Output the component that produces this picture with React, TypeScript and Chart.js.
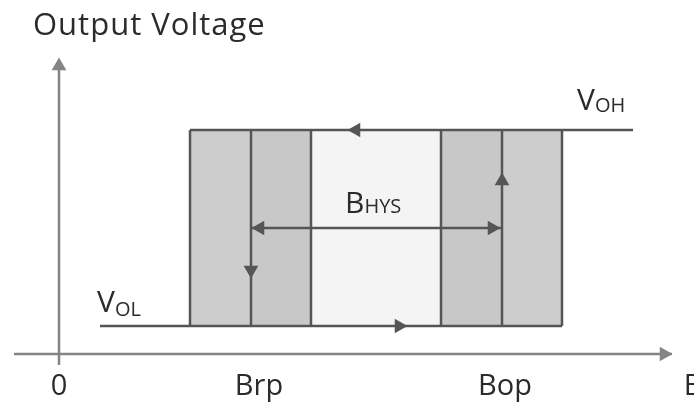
import React, { useEffect, useRef } from "react";
import { Chart, registerables } from "chart.js";

Chart.register(...registerables);

// ---- data (abstract field units B, voltage units V) ----
const bandEdges = [13.1, 19.2, 25.2, 38.2, 44.3, 50.3]; // box columns along B
const bandShades = ["#cdcdcd", "#c8c8c8", "#f4f4f4", "#c8c8c8", "#cdcdcd"];
const voltageLevels = [2.8, 22.4]; // VOL, VOH
const vohLineEnd = 57.4;
const volLineStart = 4.1;
const hystLevel = 12.6;
const xAxisRange = [-4.5, 61.3];
const yAxisRange = [-1.1, 29.2];

// arrow heads: [x, y, rotation]
const arrowX = [29.7, 19.2, 34.0, 44.3, 20.1, 43.3, 0, 60.5];
const arrowY = [22.4, 8.4, 2.8, 17.3, 12.6, 12.6, 28.8, 0];
const arrowRot = [270, 180, 90, 0, 270, 90, 0, 90];

// tick labels on B axis
const tickLabels = ["0", "Brp", "Bop", "B"];
const tickValues = [0, 20.0, 44.6, 63.4];
const tickY = -4.1;

// other labels: [main, subscript, x, y]
const labelMain = ["V", "V", "B"];
const labelSub = ["OH", "OL", "HYS"];
const labelX = [51.8, 3.8, 28.6];
const labelY = [24.4, 4.2, 14.1];
const labelSubDrop = [2, 4, 0];

const titleText = "Output Voltage";
const titleX = -2.6;
const titleY = 31.9;

const FONT = "'Open Sans', 'DejaVu Sans', sans-serif";
const TEXT = "#2b2b2b";
const LINE = "#555555";
const AXIS = "#848484";

export default function App() {
  const ref = useRef<HTMLCanvasElement | null>(null);

  useEffect(() => {
    if (!ref.current) return;
    const [vol, voh] = voltageLevels;

    const datasets: any[] = [];

    // shaded bands
    for (let i = 0; i < bandShades.length; i++) {
      datasets.push({
        data: [
          { x: bandEdges[i], y: voh },
          { x: bandEdges[i + 1], y: voh },
        ],
        showLine: true,
        borderWidth: 0,
        pointRadius: 0,
        backgroundColor: bandShades[i],
        borderColor: "rgba(0,0,0,0)",
        fill: { value: vol },
        order: 10,
      });
    }

    const line = (pts: { x: number; y: number }[], color = LINE, width = 2.5) => ({
      data: pts,
      showLine: true,
      borderColor: color,
      borderWidth: width,
      pointRadius: 0,
      fill: false,
      order: 5,
    });

    // axes
    datasets.push(line([{ x: xAxisRange[0], y: 0 }, { x: xAxisRange[1], y: 0 }], AXIS, 2.5));
    datasets.push(line([{ x: 0, y: yAxisRange[0] }, { x: 0, y: yAxisRange[1] }], AXIS, 2.5));

    // VOH and VOL lines
    datasets.push(line([{ x: bandEdges[0], y: voh }, { x: vohLineEnd, y: voh }]));
    datasets.push(line([{ x: volLineStart, y: vol }, { x: bandEdges[bandEdges.length - 1], y: vol }]));

    // box verticals
    for (const e of bandEdges) {
      datasets.push(line([{ x: e, y: vol }, { x: e, y: voh }]));
    }

    // hysteresis span
    datasets.push(line([{ x: bandEdges[1], y: hystLevel }, { x: bandEdges[4], y: hystLevel }]));

    // arrow heads
    datasets.push({
      data: arrowX.map((x, i) => ({ x, y: arrowY[i] })),
      showLine: false,
      pointStyle: "triangle",
      pointRadius: 8.5,
      pointRotation: arrowRot,
      backgroundColor: arrowX.map((_, i) => (i >= 6 ? AXIS : LINE)),
      borderColor: arrowX.map((_, i) => (i >= 6 ? AXIS : LINE)),
      borderWidth: 0,
      order: 0,
    });

    const textPlugin = {
      id: "texts",
      afterDraw(chart: any) {
        const ctx = chart.ctx;
        const xs = chart.scales.x;
        const ys = chart.scales.y;
        ctx.save();
        ctx.fillStyle = TEXT;
        ctx.textBaseline = "alphabetic";

        ctx.font = `31px ${FONT}`;
        ctx.textAlign = "left";
        (ctx as any).letterSpacing = "1px";
        ctx.fillText(titleText, xs.getPixelForValue(titleX), ys.getPixelForValue(titleY));
        (ctx as any).letterSpacing = "0px";

        ctx.textAlign = "center";
        ctx.font = `29px ${FONT}`;
        tickLabels.forEach((t, i) => {
          ctx.fillText(t, xs.getPixelForValue(tickValues[i]), ys.getPixelForValue(tickY));
        });

        ctx.textAlign = "left";
        labelMain.forEach((m, i) => {
          const px = xs.getPixelForValue(labelX[i]);
          const py = ys.getPixelForValue(labelY[i]);
          ctx.font = `30px ${FONT}`;
          ctx.fillText(m, px, py);
          const w = ctx.measureText(m).width;
          ctx.font = `20px ${FONT}`;
          ctx.fillText(labelSub[i], px + w, py + labelSubDrop[i]);
        });
        ctx.restore();
      },
    };

    const chart = new Chart(ref.current, {
      type: "scatter",
      data: { datasets },
      options: {
        responsive: false,
        animation: false,
        events: [],
        layout: { padding: 0, autoPadding: false },
        plugins: { legend: { display: false }, tooltip: { enabled: false } },
        scales: {
          x: { type: "linear", display: false, min: -5.9, max: 63.5 },
          y: { type: "linear", display: false, min: -5.3, max: 35.4 },
        },
      },
      plugins: [textPlugin],
    });
    return () => chart.destroy();
  }, []);

  return (
    <div style={{ position: "fixed", left: 0, top: 0, width: 694, height: 407, background: "#fff" }}>
      <canvas ref={ref} width={694} height={407} />
    </div>
  );
}
